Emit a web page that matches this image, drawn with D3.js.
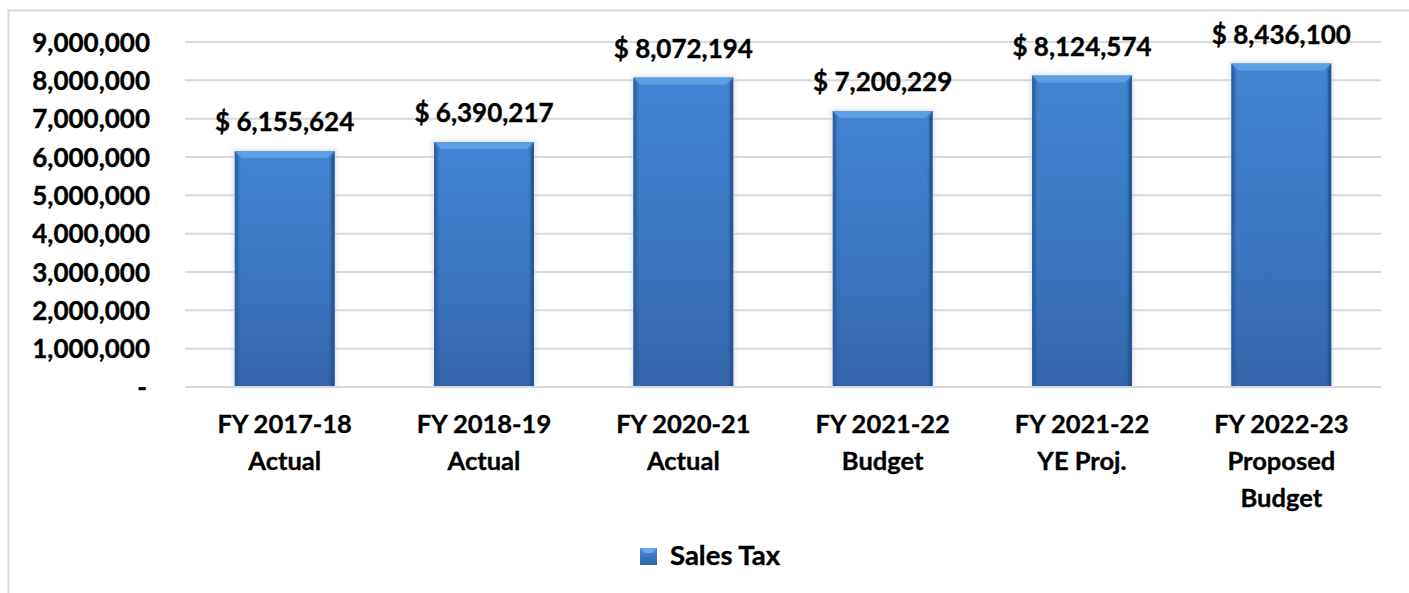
<!DOCTYPE html>
<html>
<head>
<meta charset="utf-8">
<script src="https://cdn.jsdelivr.net/npm/d3@7"></script>
<style>
  html, body { margin: 0; padding: 0; background: #ffffff; }
  svg { display: block; }
  text { font-family: Lato, "Open Sans", sans-serif; font-weight: 700; fill: #000; stroke: #000; stroke-width: 0.35px; }
</style>
</head>
<body>
<svg id="chart" width="1409" height="593"></svg>
<script>
// Sales tax revenue by fiscal year
const categories = [
  ["FY 2017-18", "Actual"],
  ["FY 2018-19", "Actual"],
  ["FY 2020-21", "Actual"],
  ["FY 2021-22", "Budget"],
  ["FY 2021-22", "YE Proj."],
  ["FY 2022-23", "Proposed", "Budget"]
];
const salesTax = [6155624, 6390217, 8072194, 7200229, 8124574, 8436100];
const yTicks = [0, 1000000, 2000000, 3000000, 4000000, 5000000, 6000000, 7000000, 8000000, 9000000];
const seriesName = "Sales Tax";

const svg = d3.select("#chart");
const W = 1409, H = 593;
const plot = { left: 185, right: 1381, top: 42, bottom: 387 };

// outer chart frame (continues past the right and bottom edges)
svg.append("rect")
  .attr("x", 8.5).attr("y", 10.5)
  .attr("width", W + 20).attr("height", H + 20)
  .attr("fill", "none").attr("stroke", "#d9d9d9").attr("stroke-width", 2);

const keys = categories.map(c => c.join(" "));
const x = d3.scaleBand().domain(keys)
  .range([plot.left, plot.right]).paddingInner(0.5).paddingOuter(0.25);
const y = d3.scaleLinear().domain([0, 9000000]).range([plot.bottom, plot.top]);

// gridlines
const grid = svg.append("g");
grid.selectAll("line").data(yTicks.filter(t => t > 0)).join("line")
  .attr("x1", plot.left).attr("x2", plot.right)
  .attr("y1", d => y(d)).attr("y2", d => y(d))
  .attr("stroke", "#d9d9d9").attr("stroke-width", 2);

// y axis labels
const fmt = d3.format(",");
const yAxis = d3.axisLeft(y).tickValues(yTicks).tickSize(0).tickPadding(0)
  .tickFormat(d => d === 0 ? "-" : fmt(d));
const gy = svg.append("g").attr("transform", `translate(${plot.left - 35},0)`).call(yAxis);
gy.select(".domain").remove();
gy.selectAll("text")
  .attr("font-size", 26).attr("font-family", "Lato, sans-serif").attr("font-weight", 700)
  .attr("fill", "#000").attr("dy", "0.35em");
gy.selectAll(".tick").filter(d => d === 0).select("text").attr("dx", -3);

// gradients for the bevelled bars
const defs = svg.append("defs");
const body = defs.append("linearGradient").attr("id", "barBody")
  .attr("x1", 0).attr("y1", 0).attr("x2", 0).attr("y2", 1);
body.append("stop").attr("offset", "0%").attr("stop-color", "#4285d3");
body.append("stop").attr("offset", "55%").attr("stop-color", "#3b77c2");
body.append("stop").attr("offset", "100%").attr("stop-color", "#3264aa");

const side = defs.append("linearGradient").attr("id", "barSide")
  .attr("x1", 0).attr("y1", 0).attr("x2", 1).attr("y2", 0);
side.append("stop").attr("offset", "0%").attr("stop-color", "#1f4e8c").attr("stop-opacity", 0.55);
side.append("stop").attr("offset", "6%").attr("stop-color", "#1f4e8c").attr("stop-opacity", 0);
side.append("stop").attr("offset", "94%").attr("stop-color", "#1f4e8c").attr("stop-opacity", 0);
side.append("stop").attr("offset", "100%").attr("stop-color", "#1f4e8c").attr("stop-opacity", 0.6);

const glow = defs.append("filter").attr("id", "glow")
  .attr("x", "-10%").attr("y", "-10%").attr("width", "120%").attr("height", "120%");
glow.append("feGaussianBlur").attr("stdDeviation", 2);

const data = keys.map((k, i) => ({ key: k, value: salesTax[i] }));
const bev = 7;

const bars = svg.append("g").selectAll("g").data(data).join("g");
// soft halo around each bar
bars.append("rect")
  .attr("x", d => x(d.key) - 2).attr("y", d => y(d.value) - 2)
  .attr("width", x.bandwidth() + 4).attr("height", d => y(0) - y(d.value) + 2)
  .attr("fill", "#c8d3e0").attr("opacity", 0.6).attr("filter", "url(#glow)");
bars.append("rect")
  .attr("x", d => x(d.key)).attr("y", d => y(d.value))
  .attr("width", x.bandwidth()).attr("height", d => y(0) - y(d.value))
  .attr("fill", "url(#barBody)");
bars.append("rect")
  .attr("x", d => x(d.key)).attr("y", d => y(d.value))
  .attr("width", x.bandwidth()).attr("height", d => y(0) - y(d.value))
  .attr("fill", "url(#barSide)");
// top bevel facet
bars.append("path")
  .attr("d", d => {
    const x0 = x(d.key), x1 = x0 + x.bandwidth(), t = y(d.value);
    return `M${x0},${t}L${x1},${t}L${x1 - bev},${t + bev}L${x0 + bev},${t + bev}Z`;
  })
  .attr("fill", "#5d9de4");
// side bevel facets
bars.append("path")
  .attr("d", d => {
    const x0 = x(d.key), t = y(d.value), b = y(0);
    return `M${x0},${t}L${x0 + 3},${t + bev}L${x0 + 3},${b}L${x0},${b}Z`;
  })
  .attr("fill", "#2d5c9c").attr("opacity", 0.7);
bars.append("path")
  .attr("d", d => {
    const x1 = x(d.key) + x.bandwidth(), t = y(d.value), b = y(0);
    return `M${x1},${t}L${x1 - 3},${t + bev}L${x1 - 3},${b}L${x1},${b}Z`;
  })
  .attr("fill", "#24528f").attr("opacity", 0.8);

// baseline
svg.append("line")
  .attr("x1", plot.left).attr("x2", plot.right)
  .attr("y1", y(0)).attr("y2", y(0))
  .attr("stroke", "#d9d9d9").attr("stroke-width", 2);

// value labels
svg.append("g").selectAll("text").data(data).join("text")
  .attr("x", d => x(d.key) + x.bandwidth() / 2)
  .attr("y", d => y(d.value) - 20)
  .attr("text-anchor", "middle")
  .attr("font-size", 26)
  .text(d => "$ " + fmt(d.value));

// category labels (multi-line)
const xl = svg.append("g").selectAll("text").data(categories).join("text")
  .attr("text-anchor", "middle")
  .attr("font-size", 25.5)
  .attr("transform", (c, i) => `translate(${x(keys[i]) + x.bandwidth() / 2},${plot.bottom + 46})`);
xl.selectAll("tspan").data(c => c).join("tspan")
  .attr("x", 0).attr("y", (d, j) => j * 37)
  .text(d => d);

// legend
const lg = svg.append("g").attr("transform", "translate(640,548)");
const lgGrad = defs.append("linearGradient").attr("id", "lgGrad")
  .attr("x1", 0).attr("y1", 0).attr("x2", 0).attr("y2", 1);
lgGrad.append("stop").attr("offset", "0%").attr("stop-color", "#4a8dd8");
lgGrad.append("stop").attr("offset", "100%").attr("stop-color", "#2f62a8");
lg.append("rect").attr("width", 17).attr("height", 17).attr("fill", "url(#lgGrad)");
lg.append("path").attr("d", "M0,0L17,0L12,5L5,5Z").attr("fill", "#6aa6e8");
lg.append("text").attr("x", 30).attr("y", 17).attr("font-size", 27.5).text(seriesName);
</script>
</body>
</html>
